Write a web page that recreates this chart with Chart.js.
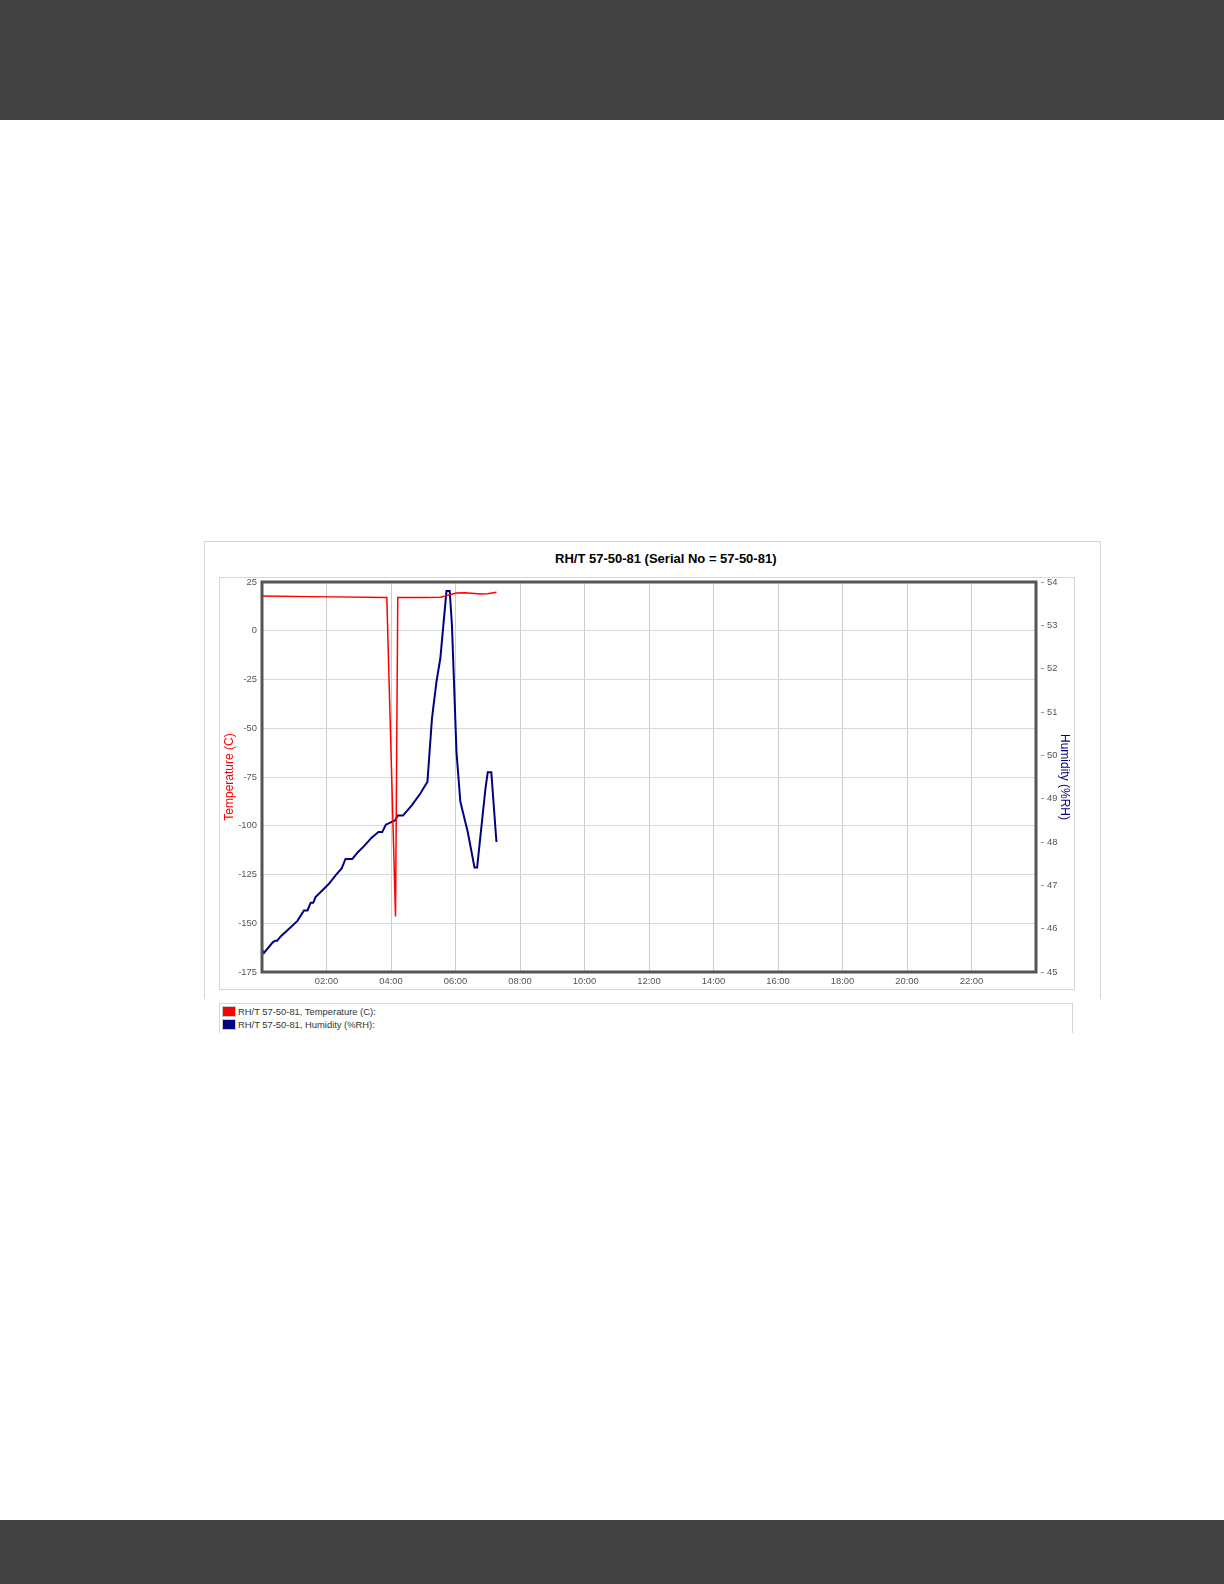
<!DOCTYPE html>
<html>
<head>
<meta charset="utf-8">
<title>RH/T 57-50-81</title>
<script src="https://cdn.jsdelivr.net/npm/chart.js@4.4.1/dist/chart.umd.min.js"></script>
<style>
  html, body { margin: 0; padding: 0; background: #fff; }
  body { width: 1224px; height: 1584px; position: relative; overflow: hidden; font-family: "Liberation Sans", Arial, sans-serif; }
  .bar { position: absolute; left: 0; width: 1224px; background: #424242; }
  #topBar { top: 0; height: 120px; }
  #bottomBar { top: 1520px; height: 64px; }
  #panel { position: absolute; left: 204px; top: 541px; width: 895px; height: 457px; border: 1px solid #d4d4d4; border-bottom: none; }
  #title { position: absolute; left: 555px; top: 551px; font: bold 13px "Liberation Sans", Arial, sans-serif; color: #000; white-space: nowrap; }
  #chartBox { position: absolute; left: 219px; top: 577px; width: 854px; height: 411px; border: 1px solid #d6d6d6; }
  #chartBox canvas { display: block; }
  #legend { position: absolute; left: 219px; top: 1003px; width: 854px; height: 30px; border: 1px solid #d6d6d6; border-bottom: none; padding: 1px 0 0 2px; box-sizing: border-box; }
  .item { height: 13px; line-height: 13px; font-size: 9.4px; color: #333; white-space: nowrap; }
  .swatch { display: inline-block; width: 12px; height: 9px; border: 1px solid #c8c8c8; vertical-align: top; margin: 1px 2px 0 0; }
</style>
</head>
<body>
<div class="bar" id="topBar"></div>
<div id="panel"></div>
<div id="title">RH/T 57-50-81 (Serial No = 57-50-81)</div>
<div id="chartBox"><canvas id="myChart" width="854" height="411"></canvas></div>
<div id="legend"></div>
<div class="bar" id="bottomBar"></div>
<script>
// time in hours since 00:00
const tempTimes = [0.00, 1.50, 3.87, 4.14, 4.21, 5.00, 5.53, 5.72, 5.85, 6.03, 6.30, 6.78, 7.00, 7.27];
const tempValues = [17.8, 17.5, 17.1, -146.5, 17.1, 17.1, 17.2, 18.0, 18.6, 19.4, 19.5, 18.9, 19.0, 19.7];

const humTimes = [
  0.00, 0.06, 0.34, 0.41, 0.47, 0.58, 1.10, 1.30, 1.41, 1.51, 1.59, 1.66, 2.00, 2.07, 2.28,
  2.47, 2.59, 2.80, 2.98, 3.17, 3.40, 3.61, 3.73, 3.84, 4.13, 4.21, 4.37, 4.65, 4.91, 5.13,
  5.27, 5.41, 5.53, 5.72, 5.82, 5.89, 6.03, 6.15, 6.38, 6.59, 6.67, 6.93, 7.00, 7.11, 7.27
];
const humValues = [
  45.52, 45.44, 45.69, 45.72, 45.72, 45.82, 46.18, 46.42, 46.42, 46.60, 46.60, 46.73, 46.98, 47.03, 47.23,
  47.39, 47.61, 47.61, 47.77, 47.91, 48.10, 48.23, 48.23, 48.40, 48.50, 48.61, 48.61, 48.85, 49.12, 49.39,
  50.85, 51.70, 52.24, 53.79, 53.79, 53.00, 50.08, 48.93, 48.23, 47.41, 47.41, 49.24, 49.61, 49.61, 48.00
];

const timeLabels = ['02:00', '04:00', '06:00', '08:00', '10:00', '12:00', '14:00', '16:00', '18:00', '20:00', '22:00'];
const seriesNames = ['RH/T 57-50-81, Temperature (C):', 'RH/T 57-50-81, Humidity (%RH):'];
const seriesColors = ['#ff0000', '#000080'];

const toPoints = (xs, ys) => xs.map((x, i) => ({ x: x, y: ys[i] }));

const smallFont = { family: '"Liberation Sans", Arial, sans-serif', size: 9.4 };
const titleFont = { family: '"Liberation Sans", Arial, sans-serif', size: 12 };

// dark frame round the plot area
const plotFrame = {
  id: 'plotFrame',
  afterDatasetsDraw(chart) {
    const { ctx, chartArea } = chart;
    ctx.save();
    ctx.strokeStyle = '#555555';
    ctx.lineWidth = 3;
    ctx.strokeRect(chartArea.left, chartArea.top, chartArea.right - chartArea.left, chartArea.bottom - chartArea.top);
    ctx.restore();
  }
};

const ctx = document.getElementById('myChart');

const myChart = new Chart(ctx, {
  type: 'line',
  plugins: [plotFrame],
  data: {
    datasets: [
      {
        label: seriesNames[0],
        data: toPoints(tempTimes, tempValues),
        borderColor: seriesColors[0],
        backgroundColor: seriesColors[0],
        borderWidth: 1.5,
        pointRadius: 0,
        tension: 0,
        yAxisID: 'y',
      },
      {
        label: seriesNames[1],
        data: toPoints(humTimes, humValues),
        borderColor: seriesColors[1],
        backgroundColor: seriesColors[1],
        borderWidth: 2,
        pointRadius: 0,
        tension: 0,
        yAxisID: 'y1',
      },
    ],
  },
  options: {
    responsive: false,
    animation: false,
    devicePixelRatio: 1,
    layout: {
      padding: { top: 4, left: 0, right: 0, bottom: 0 }
    },
    plugins: {
      legend: { display: false },
      tooltip: { enabled: false },
      title: { display: false },
    },
    scales: {
      x: {
        type: 'linear',
        min: 0,
        max: 24,
        afterFit(scale) {
          scale.height = 17;
          scale.paddingLeft = 0;
          scale.paddingRight = 0;
        },
        border: { display: false },
        grid: {
          color: '#cccccc',
          drawTicks: false,
        },
        ticks: {
          stepSize: 2,
          autoSkip: false,
          maxRotation: 0,
          padding: 4,
          color: '#555555',
          font: smallFont,
          callback: (v) => (v > 0 && v < 24 && v % 2 === 0) ? timeLabels[v / 2 - 1] : '',
        },
      },
      y: {
        position: 'left',
        min: -175,
        max: 25,
        afterFit(scale) {
          scale.width = 42;
          scale.paddingTop = 0;
          scale.paddingBottom = 0;
        },
        border: { display: false },
        grid: {
          color: '#d9d9d9',
          drawTicks: false,
        },
        ticks: {
          stepSize: 25,
          padding: 5,
          color: '#555555',
          font: smallFont,
        },
        title: {
          display: true,
          text: 'Temperature (C)',
          color: '#ff0000',
          font: titleFont,
          padding: { top: 2, bottom: 0 },
        },
      },
      y1: {
        position: 'right',
        min: 45,
        max: 54,
        afterFit(scale) {
          scale.width = 38;
          scale.paddingTop = 0;
          scale.paddingBottom = 0;
        },
        border: { display: false },
        grid: {
          drawOnChartArea: false,
          drawTicks: true,
          tickLength: 8,
          tickColor: '#999999',
          tickBorderDash: [3, 5],
          tickBorderDashOffset: 3,
        },
        ticks: {
          stepSize: 1,
          padding: 3,
          color: '#555555',
          font: smallFont,
        },
        title: {
          display: true,
          text: 'Humidity (%RH)',
          color: '#000080',
          font: titleFont,
          padding: { top: 2, bottom: 0 },
        },
      },
    },
  },
});

// legend under the chart, built from the datasets
const legendBox = document.getElementById('legend');
myChart.data.datasets.forEach((ds) => {
  const row = document.createElement('div');
  row.className = 'item';
  const sw = document.createElement('span');
  sw.className = 'swatch';
  sw.style.background = ds.borderColor;
  row.appendChild(sw);
  row.appendChild(document.createTextNode(ds.label));
  legendBox.appendChild(row);
});
</script>
</body>
</html>
